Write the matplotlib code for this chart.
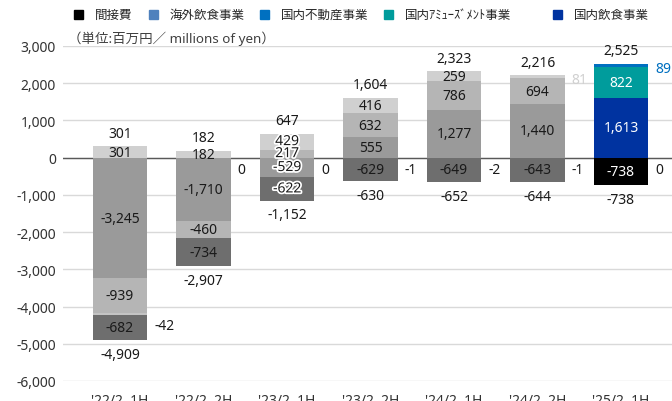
import numpy as np
import matplotlib
matplotlib.use("Agg")
from matplotlib import pyplot as plt
from matplotlib.patches import Rectangle
import matplotlib.patheffects as pe

plt.rcParams['font.family'] = ['Noto Sans', 'Noto Sans CJK JP', 'DejaVu Sans']

# data (millions of yen)
periods = ["'22/2  1H", "'22/2  2H", "'23/2  1H", "'23/2  2H", "'24/2  1H", "'24/2  2H", "'25/2  1H"]
domestic_food = [-3245, -1710, -529, 555, 1277, 1440, 1613]
amusement = [-939, -460, 217, 632, 786, 694, 822]
real_estate = [301, 182, 429, 416, 259, 81, 89]
overseas = [-42, 0, 0, -1, -2, -1, 0]
overhead = [-682, -734, -622, -629, -649, -643, -738]
pos_total = [301, 182, 647, 1604, 2323, 2216, 2525]
neg_total = [-4909, -2907, -1152, -630, -652, -644, -738]

legend_names = ["間接費", "海外飲食事業", "国内不動産事業", "国内ｱﾐｭｰｽﾞﾒﾝﾄ事業", "国内飲食事業"]

# stacking order bottom-up (Excel series order)
series = [domestic_food, amusement, real_estate, overseas, overhead]
grey_cols = ["#9a9a9a", "#b5b5b5", "#d0d0d0", "#c4c4c4", "#6e6e6e"]
main_cols = ["#0033a0", "#009c9c", "#0070c0", "#4f81bd", "#000000"]
legend_cols = ["#000000", "#4f81bd", "#0070c0", "#009c9c", "#0033a0"]

fig = plt.figure(figsize=(6.72, 4.02), dpi=100)
ax = fig.add_axes([63 / 672, 20 / 402, (672 - 63) / 672, (382 - 47) / 402])

x = np.arange(len(periods))
w = 0.65
n = len(periods)
pos_base = np.zeros(n)
neg_base = np.zeros(n)
txt = "#1a1a1a"
fs = 10

for s_idx, vals in enumerate(series):
    vals = np.array(vals, dtype=float)
    bottoms = np.where(vals >= 0, pos_base, neg_base)
    cols = [grey_cols[s_idx]] * (n - 1) + [main_cols[s_idx]]
    ax.bar(x, vals, w, bottom=bottoms, color=cols, zorder=3)
    for i in range(n):
        v = vals[i]
        if s_idx == 3:
            # overseas: label to the right of the bar
            yy = bottoms[i] + v / 2 if v != 0 else 0
            ax.annotate(f"{int(v):,}", (x[i] + w / 2, yy), xytext=(5, -3),
                        textcoords="offset points", ha="left", va="top",
                        fontsize=fs, color=txt, zorder=5)
        elif s_idx == 2 and abs(v) < 150:
            ax.annotate(f"{int(v):,}", (x[i] + w / 2, bottoms[i] + v / 2), xytext=(5, -2),
                        textcoords="offset points", ha="left", va="center",
                        fontsize=fs, color=cols[i], zorder=5)
        else:
            c = "white" if i == n - 1 else txt
            t = ax.text(x[i], bottoms[i] + v / 2, f"{int(v):,}", ha="center", va="center",
                        fontsize=fs, color=c, zorder=5)
            if i == 2:
                t.set_path_effects([pe.withStroke(linewidth=2.5, foreground="white")])
    pos_base += np.where(vals >= 0, vals, 0)
    neg_base += np.where(vals < 0, vals, 0)

for i in range(n):
    ax.annotate(f"{pos_total[i]:,}", (x[i], pos_base[i]), xytext=(0, 4),
                textcoords="offset points", ha="center", va="bottom", fontsize=fs, color=txt)
    ax.annotate(f"{neg_total[i]:,}", (x[i], neg_base[i]), xytext=(0, -5),
                textcoords="offset points", ha="center", va="top", fontsize=fs, color=txt)

ax.set_ylim(-6000, 3000)
ax.set_yticks(np.arange(-6000, 3001, 1000))
ax.yaxis.set_major_formatter(matplotlib.ticker.FuncFormatter(lambda v, p: f"{int(v):,}"))
ax.set_xlim(-0.683, 6.61)
ax.set_xticks(x)
ax.set_xticklabels(periods)
ax.tick_params(length=0, labelsize=10, labelcolor="#333333")
ax.tick_params(axis="y", pad=5)
ax.tick_params(axis="x", pad=9)
ax.grid(axis="y", color="#d9d9d9", lw=1, zorder=0)
ax.axhline(0, color="#595959", lw=1, zorder=2)
for sp in ax.spines.values():
    sp.set_visible(False)

# legend drawn by hand to match the original spacing
marker_x = [74, 149, 260, 384, 553]
for name, col, mx in zip(legend_names, legend_cols, marker_x):
    fig.patches.append(Rectangle((mx / 672, 1 - 20 / 402), 9 / 672, 9 / 402,
                                 transform=fig.transFigure, color=col))
    fig.text((mx + 21) / 672, 1 - 15 / 402, name, fontsize=9, color="#262626",
             va="center", ha="left", family="Noto Sans CJK JP")

fig.text(68 / 672, 1 - 39 / 402, "（単位:百万円／ millions of yen）", fontsize=9.7,
         color="#404040", va="center", ha="left")

fig.savefig("out.png", dpi=100)
